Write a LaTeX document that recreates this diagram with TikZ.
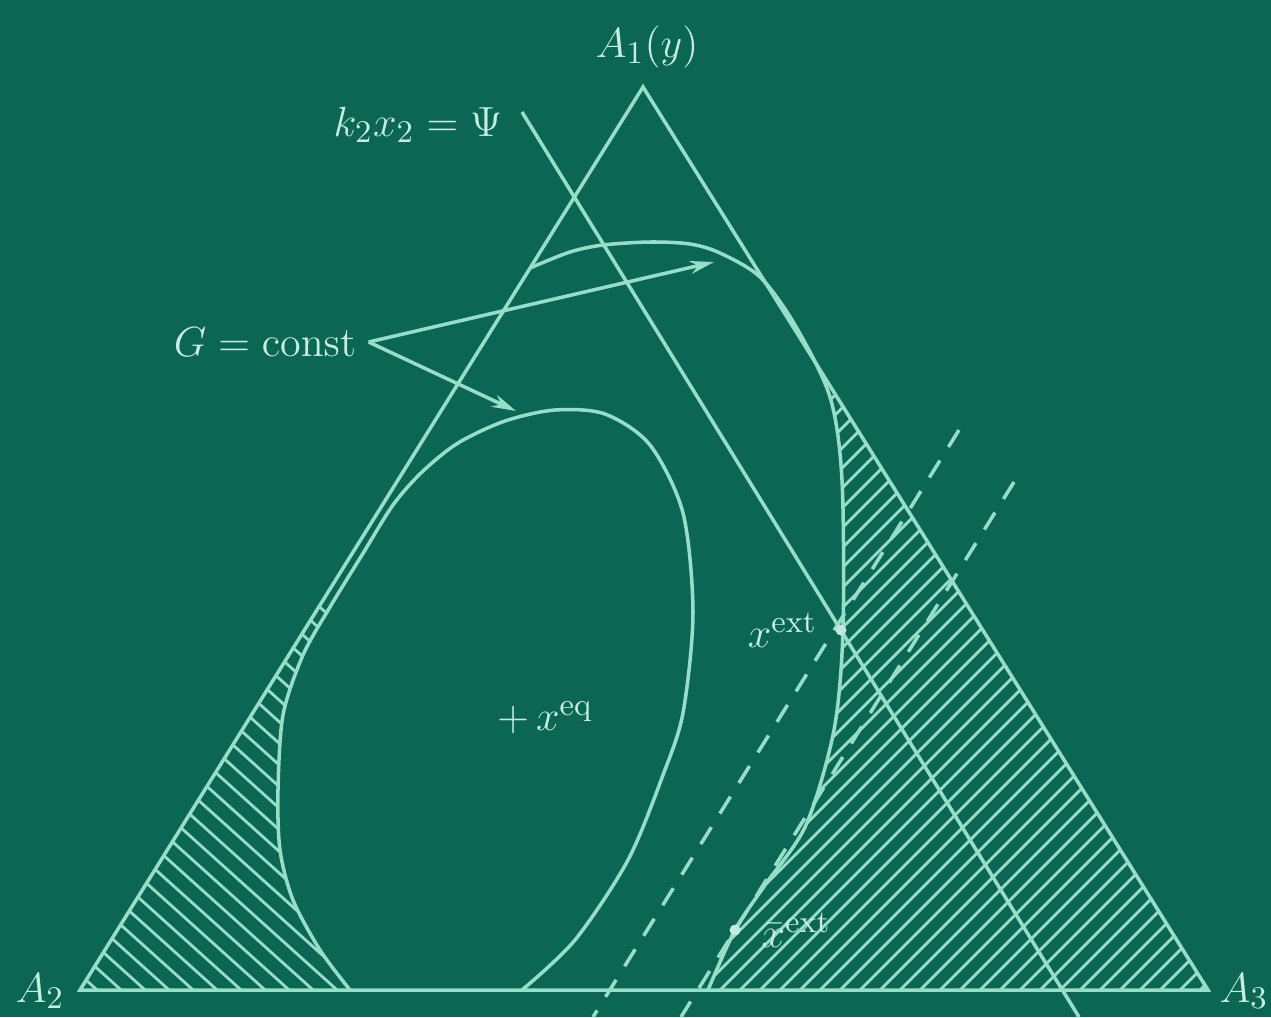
\documentclass[tikz,border=0pt]{standalone}
\usepackage{tikz}
\usetikzlibrary{arrows.meta,positioning}
\definecolor{board}{RGB}{12,102,84}
\definecolor{chalk}{RGB}{150,222,200}

\begin{document}
\begin{tikzpicture}[
  x=0.1mm, y=-0.1mm,
  >={Stealth[length=2.4mm,width=1.3mm]},
  every node/.style={font=\fontsize{13}{15}\selectfont, text=chalk!55!white},
  edge/.style={chalk, line width=1pt},
  hatch/.style={chalk, line width=0.8pt},
  guide/.style={chalk, line width=1pt, dash pattern=on 2mm off 1.6mm},
  dot/.style={circle, fill=chalk!60!white, inner sep=0pt, minimum size=1.1mm},
]
\useasboundingbox (0,0) rectangle (1271,1017);
\fill[board] (0,0) rectangle (1271,1017);

% simplex and level curves
\coordinate (A1) at (643,87);
\coordinate (A2) at (80,990);
\coordinate (A3) at (1208,990);
\def\innercurve{(350,990) (320,950) (293,900) (280,850) (278,790) (283,715)
  (303,655) (330,607) (362,555) (393,505) (422,472) (458,443) (505,421)
  (555,410) (605,414) (650,445) (683,513) (693,613) (683,713) (663,775)
  (628,860) (575,940) (522,990)}
\def\outercurve{(530,268) (570,252) (603,245) (650,242) (690,244) (720,253)
  (760,277) (795,325) (830,397) (842,480) (843,630) (834,730) (806,825)
  (765,885) (735,930) (708,990)}

% hatching, left
\begin{scope}[even odd rule]
  \clip (A1) -- (A2) -- (A3) -- cycle;
  \clip (0,600) rectangle (420,1000);
  \clip (-50,550) rectangle (470,1050)
    plot[smooth] coordinates {\innercurve} -- cycle;
  \foreach \i in {0,...,34}
    \draw[hatch] (-360+\i*24,600) -- ++(42:620);
\end{scope}

% hatching, right
\begin{scope}[even odd rule]
  \clip (A1) -- (A2) -- (A3) -- cycle;
  \clip (690,380) rectangle (1230,1000);
  \clip (640,330) rectangle (1260,1050)
    plot[smooth] coordinates {\outercurve} -- (A2) -- cycle;
  \foreach \i in {0,...,56}
    \draw[hatch] (90+\i*20,1000) -- ++(-45:950);
\end{scope}

\draw[edge] (A1) -- (A2) -- (A3) -- cycle;
\draw[edge] plot[smooth] coordinates {\innercurve};
\draw[edge] plot[smooth] coordinates {\outercurve};

% lines k2x2 = Psi and the two dashed ones
\node (psi) at (418,125) {$k_2x_2=\Psi$};
\coordinate (psiTop) at (522,112);
\coordinate (psiEnd) at (1079,1017);
\draw[edge] (psiTop) -- (psiEnd);
\coordinate (d1Top) at (959,430);
\coordinate (d1End) at (593,1017);
\coordinate (d2Top) at (1014,482);
\coordinate (d2End) at (681,1017);
\draw[guide] (d1Top) -- (d1End);
\draw[guide] (d2Top) -- (d2End);

% labels
\node (lblA1) at (647,47) {$A_1(y)$};
\node[anchor=base] (lblA2) at (40,1002) {$A_2$};
\node[anchor=base] (lblA3) at (1244,1002) {$A_3$};
\node (gconst) at (265,342) {$G=\mathrm{const}$};
\coordinate (tipOuter) at (714,262);
\coordinate (tipInner) at (516,411);
\draw[edge, ->] (gconst.east) -- (tipOuter);
\draw[edge, ->] (gconst.east) -- (tipInner);

\node[dot] (xext) at (841,630) {};
\node[left=0.5mm of xext] (lblXext) {$x^{\mathrm{ext}}$};
\node[dot] (xbar) at (735,930) {};
\node[right=0.8mm of xbar] (lblXbar) {$\bar{x}^{\mathrm{ext}}$};
\node (xeq) at (545,718) {$+\,x^{\mathrm{eq}}$};
\end{tikzpicture}
\end{document}
